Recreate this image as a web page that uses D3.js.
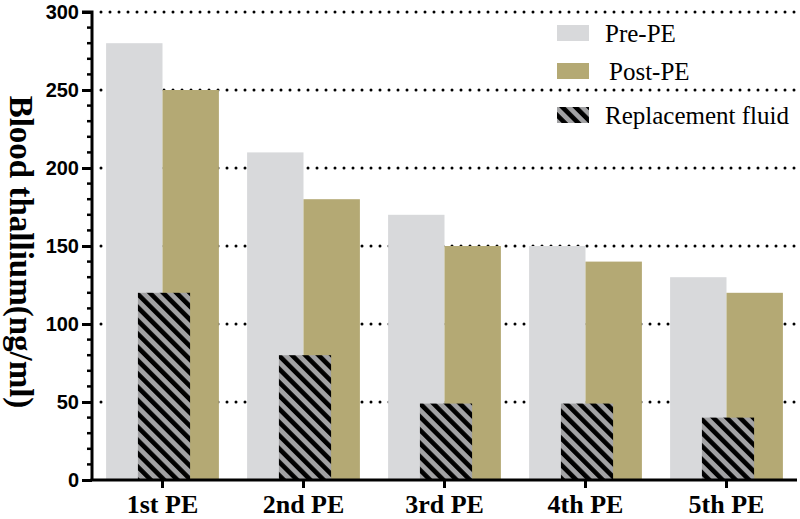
<!DOCTYPE html>
<html><head><meta charset="utf-8">
<script src="https://cdn.jsdelivr.net/npm/d3@7"></script>
<style>body{margin:0;background:#fff}svg{display:block}</style>
</head><body>
<svg id="chart" width="800" height="519"></svg>
<script>
const categories = ["1st PE","2nd PE","3rd PE","4th PE","5th PE"];
const prePE = [280,210,170,150,130];
const postPE = [250,180,150,140,120];
const replacement = [120,80,49,49,40];
const yTicks = [0,50,100,150,200,250,300];
const seriesNames = ["Pre-PE","Post-PE","Replacement fluid"];

const svg = d3.select("#chart");
const x0 = 92, x1 = 797, yTop = 12, yBot = 480;

const x = d3.scaleBand().domain(categories).range([x0, x1]).padding(0);
const y = d3.scaleLinear().domain([0,300]).range([yBot, yTop]);
const step = x.step();

const defs = svg.append("defs");
const pat = defs.append("pattern").attr("id","hatch").attr("patternUnits","userSpaceOnUse")
  .attr("width",9.4).attr("height",9.4).attr("patternTransform","rotate(-45)");
pat.append("rect").attr("width",9.4).attr("height",9.4).attr("fill","#a2a2a4");
pat.append("rect").attr("width",4.6).attr("height",9.4).attr("fill","#000");

// gridlines
svg.append("g").selectAll("line").data(yTicks.filter(d=>d>0)).join("line")
  .attr("x1",101).attr("x2",x1).attr("y1",d=>y(d)).attr("y2",d=>y(d))
  .attr("stroke","#000").attr("stroke-width",3).attr("stroke-linecap","round")
  .attr("stroke-dasharray","0 9");

const center = c => x(c) + step/2;
const bw = step*0.4;

svg.append("g").selectAll("rect").data(categories).join("rect")
  .attr("x",c=>center(c)-bw).attr("width",bw)
  .attr("y",(c,i)=>y(prePE[i])).attr("height",(c,i)=>yBot-y(prePE[i]))
  .attr("fill","#d8d9db");
svg.append("g").selectAll("rect").data(categories).join("rect")
  .attr("x",c=>center(c)).attr("width",bw)
  .attr("y",(c,i)=>y(postPE[i])).attr("height",(c,i)=>yBot-y(postPE[i]))
  .attr("fill","#b4a974");
const hw = step*0.37;
svg.append("g").selectAll("rect").data(categories).join("rect")
  .attr("x",c=>center(c)-hw/2+1.5).attr("width",hw)
  .attr("y",(c,i)=>y(replacement[i])).attr("height",(c,i)=>yBot-y(replacement[i]))
  .attr("fill","url(#hatch)");

// y axis
const yAxis = d3.axisLeft(y).tickValues(yTicks).tickSize(10).tickPadding(3);
const gy = svg.append("g").attr("transform",`translate(${x0},0)`).call(yAxis);
gy.select(".domain").attr("stroke","#000").attr("stroke-width",3).attr("d",`M-10,${yTop}H0V${yBot}`);
gy.selectAll(".tick line").attr("stroke","#000").attr("stroke-width",3);
gy.selectAll(".tick text").attr("font-family","'Liberation Sans',Arial,sans-serif")
  .attr("font-weight","bold").attr("font-size",20).attr("fill","#000");
// minor ticks
const minor = d3.range(0,301,10).filter(v=>v%50!==0);
svg.append("g").selectAll("line").data(minor).join("line")
  .attr("x1",x0-5).attr("x2",x0).attr("y1",d=>y(d)).attr("y2",d=>y(d))
  .attr("stroke","#000").attr("stroke-width",2.5);

// x axis
const xAxis = d3.axisBottom(x).tickSize(8).tickPadding(7);
const gx = svg.append("g").attr("transform",`translate(0,${yBot})`).call(xAxis);
gx.select(".domain").attr("stroke","#000").attr("stroke-width",3).attr("d",`M${x0-1.5},0H${x1}`);
gx.selectAll(".tick line").attr("stroke","#000").attr("stroke-width",3);
gx.selectAll(".tick text").attr("font-family","'Liberation Serif','Times New Roman',serif")
  .attr("font-weight","bold").attr("font-size",26).attr("fill","#000");

// y title
svg.append("text").attr("transform","translate(10,252) rotate(90)")
  .attr("text-anchor","middle").attr("font-family","'Liberation Serif','Times New Roman',serif")
  .attr("font-weight","bold").attr("font-size",33).attr("fill","#000")
  .text("Blood thallium(ng/ml)");

// legend
const legY = [25,63,107];
const legFill = ["#d8d9db","#b4a974","url(#hatch)"];
const legTx = [605,609,605];
const leg = svg.append("g");
seriesNames.forEach((n,i)=>{
  leg.append("rect").attr("x",557).attr("y",legY[i]).attr("width",32).attr("height",16).attr("fill",legFill[i]);
  leg.append("text").attr("x",legTx[i]).attr("y",legY[i]+17)
    .attr("font-family","'Liberation Serif','Times New Roman',serif").attr("font-size",25).attr("fill","#000").text(n);
});
</script>
</body></html>
